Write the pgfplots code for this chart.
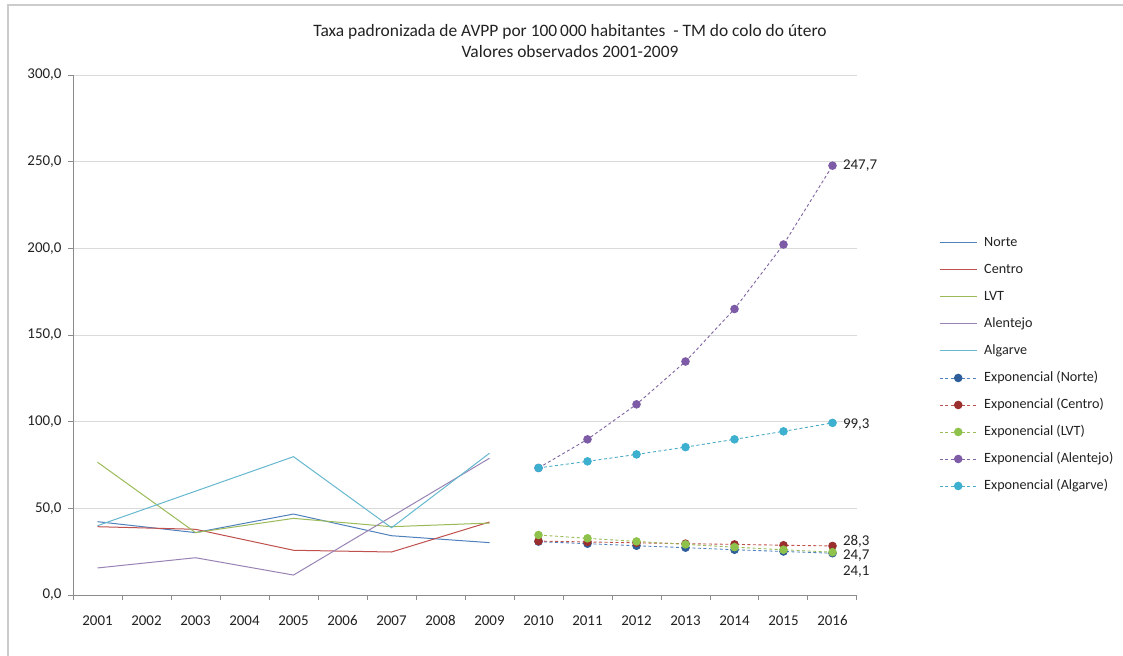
\documentclass[border=0pt]{standalone}
\usepackage{pgfplots}
\pgfplotsset{compat=1.18}
\usepackage{fontspec}
\setmainfont{Carlito}

% series colours
\definecolor{cNorte}{HTML}{4F81BD}
\definecolor{cCentro}{HTML}{C0504D}
\definecolor{cLVT}{HTML}{9BBB59}
\definecolor{cAlentejo}{HTML}{8064A2}
\definecolor{cAlgarve}{HTML}{4BACC6}
% trend marker fills
\definecolor{mNorte}{HTML}{2E5E9A}
\definecolor{mCentro}{HTML}{9B2F2D}
\definecolor{mLVT}{HTML}{8EC24A}
\definecolor{mAlentejo}{HTML}{7D5BA6}
\definecolor{mAlgarve}{HTML}{3DB0D0}
\definecolor{axisgray}{HTML}{8C8C8C}
\definecolor{gridgray}{HTML}{DADADA}
\definecolor{txtgray}{HTML}{222222}

% observed values (odd years)
\pgfplotstableread{
year Norte Centro LVT Alentejo Algarve
2001 42.3 39.4 76.6 15.6 40.0
2003 36.0 37.9 36.0 21.5 59.9
2005 46.7 25.8 44.2 11.5 79.8
2007 34.2 24.8 39.4 45.2 38.8
2009 30.2 42.1 41.5 78.9 81.8
}\observed

% exponential trend projections
\pgfplotstableread{
year Norte Centro LVT Alentejo Algarve
2010 30.8 31.1 34.6 73.3 73.3
2011 29.6 30.6 32.7 89.8 77.1
2012 28.4 30.1 30.9 110.0 81.1
2013 27.3 29.6 29.2 134.7 85.3
2014 26.1 29.2 27.6 165.0 89.8
2015 25.1 28.7 26.1 202.2 94.4
2016 24.1 28.3 24.7 247.7 99.3
}\trend

\begin{document}
\begin{tikzpicture}[x=1bp,y=1bp]
\useasboundingbox (0,0) rectangle (1123,656);
\fill[white] (0,0) rectangle (1123,656);
\draw[black!20, line width=1.5bp] (8,0) -- (8,651) -- (1123,651);

\node[font=\fontsize{17.5}{22}\selectfont, color=txtgray, align=center] at (570,615)
  {Taxa padronizada de AVPP por 100\,000 habitantes \ - TM do colo do útero\\Valores observados 2001-2009};

\begin{axis}[
  at={(73bp,61bp)}, anchor=south west,
  scale only axis, width=784bp, height=520bp,
  xmin=2000.5, xmax=2016.5, ymin=0, ymax=300,
  axis x line*=bottom, axis y line*=left,
  xtick={2001,...,2016},
  minor xtick={2000.5,2001.5,...,2016.5},
  major x tick style={draw=none},
  ytick={0,50,...,300},
  tick align=outside,
  major tick length=5bp, minor tick length=5bp,
  ymajorgrids,
  grid style={color=gridgray, line width=0.9bp},
  axis line style={color=axisgray, line width=0.9bp},
  tick style={color=axisgray, line width=0.9bp},
  /pgf/number format/assume math mode=true,
  tick label style={font=\fontsize{15}{17}\selectfont, color=txtgray},
  xticklabel style={/pgf/number format/1000 sep={}, yshift=-12bp},
  yticklabel style={/pgf/number format/.cd, fixed, fixed zerofill, precision=1, use comma, 1000 sep={}, /tikz/xshift=-3bp},
  clip=false,
  legend image code/.code={\draw[mark repeat=2, mark phase=2, #1] plot coordinates {(0bp,0bp) (18.5bp,0bp) (37bp,0bp)};},
  legend cell align=left,
  legend style={at={(1.1008,0.4433)}, anchor=west, draw=none, fill=none,
    font=\fontsize{14.2}{16}\selectfont,
    nodes={inner sep=0pt, text height=10bp, text depth=3bp, text=txtgray},
    row sep=14bp, column sep=7bp},
]
\addplot[color=cNorte, line width=1bp] table[x=year, y=Norte] {\observed};
\addlegendentry{Norte}
\addplot[color=cCentro, line width=1bp] table[x=year, y=Centro] {\observed};
\addlegendentry{Centro}
\addplot[color=cLVT, line width=1bp] table[x=year, y=LVT] {\observed};
\addlegendentry{LVT}
\addplot[color=cAlentejo!80, line width=1bp] table[x=year, y=Alentejo] {\observed};
\addlegendentry{Alentejo}
\addplot[color=cAlgarve!85, line width=1bp] table[x=year, y=Algarve] {\observed};
\addlegendentry{Algarve}

\addplot[color=cNorte, line width=0.9bp, dash pattern=on 3bp off 2.5bp, mark=*, mark size=3.8bp, mark options={solid, fill=mNorte, draw=mNorte}] table[x=year, y=Norte] {\trend};
\addlegendentry{Exponencial (Norte)}
\addplot[color=cCentro, line width=0.9bp, dash pattern=on 3bp off 2.5bp, mark=*, mark size=3.8bp, mark options={solid, fill=mCentro, draw=mCentro}] table[x=year, y=Centro] {\trend};
\addlegendentry{Exponencial (Centro)}
\addplot[color=cLVT, line width=0.9bp, dash pattern=on 3bp off 2.5bp, mark=*, mark size=3.8bp, mark options={solid, fill=mLVT, draw=mLVT}] table[x=year, y=LVT] {\trend};
\addlegendentry{Exponencial (LVT)}
\addplot[color=cAlentejo, line width=0.9bp, dash pattern=on 3bp off 2.5bp, mark=*, mark size=3.8bp, mark options={solid, fill=mAlentejo, draw=mAlentejo}] table[x=year, y=Alentejo] {\trend};
\addlegendentry{Exponencial (Alentejo)}
\addplot[color=cAlgarve, line width=0.9bp, dash pattern=on 3bp off 2.5bp, mark=*, mark size=3.8bp, mark options={solid, fill=mAlgarve, draw=mAlgarve}] table[x=year, y=Algarve] {\trend};
\addlegendentry{Exponencial (Algarve)}

% end-point value labels
\begin{scope}[every node/.style={anchor=west, font=\fontsize{15}{17}\selectfont, text=txtgray, xshift=7bp}]
\node at (axis cs:2016,247.7) {247,7};
\node[yshift=-2bp] at (axis cs:2016,99.3) {99,3};
\node[yshift=5bp] at (axis cs:2016,28.3) {28,3};
\node[yshift=-3bp] at (axis cs:2016,24.7) {24,7};
\node[yshift=-18bp] at (axis cs:2016,24.1) {24,1};
\end{scope}
\end{axis}
\end{tikzpicture}
\end{document}
